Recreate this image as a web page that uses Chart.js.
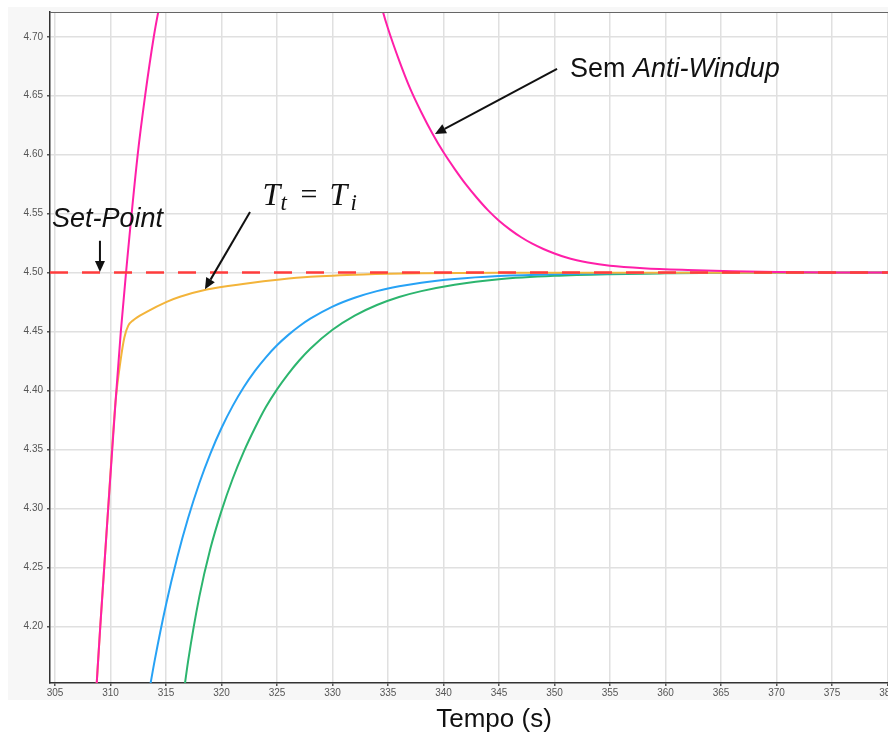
<!DOCTYPE html>
<html>
<head>
<meta charset="utf-8">
<script src="https://cdn.jsdelivr.net/npm/chart.js@4/dist/chart.umd.min.js"></script>
<style>
  html, body { margin: 0; padding: 0; background: #fff; overflow: hidden; }
  #wrap { width: 950px; height: 742px; }
</style>
</head>
<body>
<div id="wrap"><canvas id="grafico" width="950" height="742"></canvas></div>
<script>
// eixo x (tempo, s) e eixo y (nivel)
var xMin = 304.55, xMax = 384.55;
var yMin = 4.152, yMax = 4.721;
var xTicks = [305, 310, 315, 320, 325, 330, 335, 340, 345, 350, 355, 360, 365, 370, 375, 380];
var yTicks = [4.20, 4.25, 4.30, 4.35, 4.40, 4.45, 4.50, 4.55, 4.60, 4.65, 4.70];

var setPointT = [304.55, 384.55];
var setPointV = [4.50, 4.50];

// Sem Anti-Windup (rosa) - o pico fica fora da area visivel
var semAwT = [308.55, 308.76, 309.08, 309.72, 310.45, 310.93, 311.4, 312.45, 313.12, 313.9, 314.3, 316, 319, 322, 325, 328, 331, 333, 334.55,
              335, 336, 337, 338, 339, 340, 341, 342, 343, 344, 345, 346, 347, 348, 349, 350, 351, 352, 353, 355, 358, 362, 366, 370, 375, 384.55];
var semAwV = [4.12, 4.152, 4.20, 4.29, 4.39, 4.45, 4.50, 4.60, 4.65, 4.70, 4.721, 4.80, 4.88, 4.93, 4.95, 4.92, 4.845, 4.78, 4.721,
              4.707, 4.680, 4.656, 4.636, 4.618, 4.602, 4.588, 4.575, 4.5635, 4.553, 4.544, 4.5365, 4.530, 4.5245, 4.520, 4.5162, 4.513, 4.5105, 4.5085, 4.5058, 4.5037, 4.5022, 4.5012, 4.5006, 4.5002, 4.50];

// Tt = Ti (amarelo)
var ttT = [308.55, 308.76, 309.08, 309.72, 310.45, 310.9, 311.25, 311.6, 312.05, 313.26, 315.06, 316.26, 318.67, 322.27, 325.27, 328, 332.8, 338, 345, 384.55];
var ttV = [4.12, 4.152, 4.20, 4.29, 4.39, 4.425, 4.445, 4.455, 4.4597, 4.4667, 4.4752, 4.4795, 4.4857, 4.4908, 4.4942, 4.4965, 4.4985, 4.4995, 4.4999, 4.50];

// curva azul
var azulT = [313.3, 314, 315, 316, 317, 318, 319, 320, 321, 322, 323, 324, 325, 326, 327, 328, 330, 332, 334, 336, 338, 341, 345, 350, 356, 362, 384.55];
var azulV = [4.135, 4.172, 4.2183, 4.258, 4.2921, 4.3214, 4.3466, 4.3682, 4.3868, 4.4028, 4.4165, 4.4282, 4.4384, 4.447, 4.4545, 4.4609, 4.4712, 4.4787, 4.4843, 4.4884, 4.4915, 4.4946, 4.4971, 4.4987, 4.4995, 4.4998, 4.50];

// curva verde
var verdeT = [316.5, 317, 318, 319, 320, 321, 322, 323, 324, 325, 326, 327, 328, 330, 332, 334, 336, 338, 341, 345, 350, 355, 360, 366, 384.55];
var verdeV = [4.137, 4.171, 4.225, 4.266, 4.298, 4.325, 4.348, 4.368, 4.386, 4.401, 4.414, 4.4255, 4.4355, 4.4515, 4.4635, 4.4725, 4.4793, 4.4843, 4.4898, 4.4944, 4.4973, 4.4987, 4.4994, 4.4999, 4.50];

function pontos(ts, vs) {
    return ts.map(function (t, i) { return { x: t, y: vs[i] }; });
}

function serie(ts, vs, cor, ordem) {
    return {
        data: pontos(ts, vs),
        borderColor: cor,
        borderWidth: 2,
        pointRadius: 0,
        tension: 0.4,
        cubicInterpolationMode: 'monotone',
        order: ordem
    };
}

function fixarTicks(valores) {
    return function (scale) {
        scale.ticks = valores.map(function (v) { return { value: v }; });
    };
}

function seta(ctx, x1, y1, x2, y2) {
    var ang = Math.atan2(y2 - y1, x2 - x1);
    var cab = 11, larg = 5;
    var bx = x2 - cab * Math.cos(ang), by = y2 - cab * Math.sin(ang);
    ctx.beginPath();
    ctx.moveTo(x1, y1);
    ctx.lineTo(bx, by);
    ctx.stroke();
    ctx.beginPath();
    ctx.moveTo(x2, y2);
    ctx.lineTo(bx + larg * Math.sin(ang), by - larg * Math.cos(ang));
    ctx.lineTo(bx - larg * Math.sin(ang), by + larg * Math.cos(ang));
    ctx.closePath();
    ctx.fill();
}

var fundo = {
    id: 'fundo',
    beforeDraw: function (chart) {
        var ctx = chart.ctx, a = chart.chartArea;
        ctx.save();
        ctx.fillStyle = '#f7f7f7';
        ctx.fillRect(8, 7, chart.width - 8, 693);
        ctx.fillStyle = '#ffffff';
        ctx.fillRect(a.left, a.top, a.right - a.left, a.bottom - a.top);
        ctx.restore();
    },
    afterDraw: function (chart) {
        var ctx = chart.ctx, a = chart.chartArea;
        ctx.save();
        ctx.strokeStyle = '#666';
        ctx.lineWidth = 1;
        ctx.beginPath();
        ctx.moveTo(a.left, a.top + 0.5);
        ctx.lineTo(a.right, a.top + 0.5);
        ctx.stroke();
        ctx.restore();
    }
};

var anotacoes = {
    id: 'anotacoes',
    afterDatasetsDraw: function (chart) {
        var ctx = chart.ctx;
        var sx = chart.scales.x, sy = chart.scales.y;
        var px = function (t) { return sx.getPixelForValue(t); };
        var py = function (v) { return sy.getPixelForValue(v); };
        ctx.save();
        ctx.fillStyle = '#111';
        ctx.strokeStyle = '#111';
        ctx.lineWidth = 2;
        ctx.textBaseline = 'alphabetic';
        ctx.textAlign = 'left';

        // Set-Point
        ctx.font = 'italic 27px "Liberation Sans", Arial, sans-serif';
        ctx.fillText('Set-Point', px(304.72), py(4.5386));
        seta(ctx, px(309.05), py(4.527), px(309.05), py(4.5005));

        // Tt = Ti
        var x0 = px(323.7), y0 = py(4.5573);
        ctx.font = 'italic 32px "Liberation Serif", "DejaVu Serif", serif';
        ctx.fillText('T', x0, y0);
        ctx.fillText('T', x0 + 67, y0);
        ctx.font = 'italic 23px "Liberation Serif", "DejaVu Serif", serif';
        ctx.fillText('t', x0 + 18, y0 + 5);
        ctx.fillText('i', x0 + 88, y0 + 5);
        ctx.font = '30px "Liberation Serif", "DejaVu Serif", serif';
        ctx.fillText('=', x0 + 38, y0 - 1);
        seta(ctx, px(322.57), py(4.5514), px(318.51), py(4.486));

        // Sem Anti-Windup
        var sxp = px(351.4), syp = py(4.666);
        ctx.font = '27px "Liberation Sans", Arial, sans-serif';
        ctx.fillText('Sem', sxp, syp);
        var w = ctx.measureText('Sem ').width;
        ctx.font = 'italic 27px "Liberation Sans", Arial, sans-serif';
        ctx.fillText('Anti-Windup', sxp + w, syp);
        seta(ctx, px(350.23), py(4.6727), px(339.23), py(4.6176));

        ctx.restore();
    }
};

var config = {
    type: 'line',
    data: {
        datasets: [
            {
                data: pontos(setPointT, setPointV),
                borderColor: '#ff3c3c',
                borderWidth: 2.5,
                borderDash: [18, 14],
                pointRadius: 0,
                order: 0
            },
            serie(semAwT, semAwV, '#ff1fa8', 1),
            serie(ttT, ttV, '#f3b43a', 2),
            serie(azulT, azulV, '#27a2f5', 3),
            serie(verdeT, verdeV, '#2cb56e', 4)
        ]
    },
    options: {
        responsive: false,
        animation: false,
        layout: { padding: { left: 8, top: 12, right: 12, bottom: 0 } },
        plugins: {
            legend: { display: false },
            tooltip: { enabled: false }
        },
        scales: {
            x: {
                type: 'linear',
                min: xMin,
                max: xMax,
                afterBuildTicks: fixarTicks(xTicks),
                afterFit: function (scale) { scale.height = 59; },
                ticks: {
                    padding: 1,
                    maxRotation: 0,
                    autoSkip: false,
                    color: '#555',
                    font: { family: '"Liberation Sans", Arial, sans-serif', size: 10 },
                    callback: function (v) { return String(v); }
                },
                grid: { color: '#e0e0e0', lineWidth: 1.5, tickLength: 3, tickColor: '#555' },
                border: { color: '#333', width: 1.5 },
                title: {
                    display: true,
                    text: 'Tempo (s)',
                    color: '#111',
                    padding: { top: 0, bottom: 7 },
                    font: { family: '"Liberation Sans", Arial, sans-serif', size: 26 }
                }
            },
            y: {
                min: yMin,
                max: yMax,
                afterBuildTicks: fixarTicks(yTicks),
                afterFit: function (scale) { scale.width = 42; },
                ticks: {
                    padding: 4,
                    autoSkip: false,
                    color: '#555',
                    font: { family: '"Liberation Sans", Arial, sans-serif', size: 10 },
                    callback: function (v) { return Number(v).toFixed(2); }
                },
                grid: { color: '#e0e0e0', lineWidth: 1.5, tickLength: 3, tickColor: '#555' },
                border: { color: '#333', width: 1.5 }
            }
        }
    },
    plugins: [fundo, anotacoes]
};

new Chart(document.getElementById('grafico'), config);
</script>
</body>
</html>
